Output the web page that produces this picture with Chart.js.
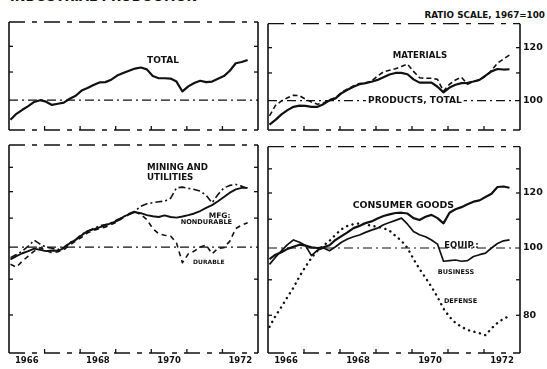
<!DOCTYPE html>
<html>
<head>
<meta charset="utf-8">
<title>Industrial Production</title>
<script src="https://cdn.jsdelivr.net/npm/chart.js@4.4.1/dist/chart.umd.min.js"></script>
<style>
  html, body { margin: 0; padding: 0; background: #fff; }
  body { width: 547px; height: 369px; position: relative; overflow: hidden; font-family: "DejaVu Sans", sans-serif; color: #111; }
  canvas { position: absolute; }
  #title { position: absolute; left: 10px; top: -9px; font-weight: bold; font-size: 12.8px; line-height: 12.8px; white-space: nowrap; }
  #ratio { position: absolute; right: 2px; top: 11px; font-weight: bold; font-size: 8.8px; line-height: 9px; white-space: nowrap; }
</style>
</head>
<body>
<div id="title">INDUSTRIAL PRODUCTION</div>
<div id="ratio">RATIO SCALE, 1967=100</div>
<canvas id="pTotal" width="268" height="125" style="left:0;top:15px"></canvas>
<canvas id="pProducts" width="287" height="125" style="left:260px;top:15px"></canvas>
<canvas id="pIndustry" width="268" height="231" style="left:0;top:138px"></canvas>
<canvas id="pMarket" width="287" height="231" style="left:260px;top:138px"></canvas>
<script>
// Bimonthly observations, seasonally adjusted, 1967 = 100
const periods = [
  "1966-01","1966-03","1966-05","1966-07","1966-09","1966-11",
  "1967-01","1967-03","1967-05","1967-07","1967-09","1967-11",
  "1968-01","1968-03","1968-05","1968-07","1968-09","1968-11",
  "1969-01","1969-03","1969-05","1969-07","1969-09","1969-11",
  "1970-01","1970-03","1970-05","1970-07","1970-09","1970-11",
  "1971-01","1971-03","1971-05","1971-07","1971-09","1971-11",
  "1972-01","1972-03","1972-05","1972-07","1972-09"
];

const totalIndex = [93.6, 95.5, 96.8, 98.0, 99.4, 100.0, 99.5, 98.4, 98.8, 99.2, 100.5, 101.5,
  103.3, 104.2, 105.3, 106.2, 106.3, 107.2, 108.7, 109.6, 110.5, 111.3, 111.7, 111.0,
  108.5, 107.7, 107.7, 107.6, 106.5, 103.0, 104.8, 106.0, 106.8, 106.3, 106.5, 107.5,
  108.5, 110.5, 113.3, 113.8, 114.6];

const productsTotal = [92.1, 93.6, 95.4, 96.8, 97.9, 98.3, 98.2, 97.9, 97.9, 98.8, 100.1, 100.8,
  102.6, 103.8, 104.9, 105.8, 106.2, 106.7, 107.4, 108.4, 109.4, 110.0, 110.0, 109.5,
  107.6, 106.4, 106.4, 106.4, 104.9, 102.9, 104.6, 105.6, 106.2, 106.3, 106.8, 107.4,
  109.0, 110.6, 111.5, 111.3, 111.4];

const materials = [94.9, 98.4, 99.9, 101.0, 101.9, 101.7, 100.5, 99.5, 98.8, 99.2, 100.3, 101.0,
  102.9, 104.1, 105.2, 106.1, 106.3, 107.0, 108.8, 110.4, 111.0, 111.6, 112.5, 113.4,
  110.6, 108.2, 108.0, 108.0, 107.6, 103.3, 105.8, 107.4, 108.4, 105.8, 106.8, 107.3,
  108.8, 110.9, 113.8, 115.4, 117.0];

const miningUtilities = [96.6, 97.6, 98.7, 100.3, 102.3, 101.0, 100.0, 99.6, 99.2, 100.0, 101.4, 102.6,
  104.3, 105.4, 106.3, 107.2, 107.7, 108.3, 109.4, 110.4, 111.6, 112.6, 114.4, 115.3,
  115.7, 116.1, 116.3, 117.4, 121.5, 121.8, 121.3, 120.9, 120.2, 118.6, 115.7, 118.9,
  121.5, 122.5, 122.9, 122.2, 121.3];

const mfgNondurable = [96.0, 97.1, 98.0, 98.7, 99.5, 99.1, 98.7, 98.9, 98.8, 99.7, 101.3, 102.4,
  104.0, 105.4, 106.0, 106.7, 107.4, 108.2, 109.0, 110.4, 111.5, 112.2, 111.8, 111.1,
  110.7, 110.4, 111.0, 110.4, 110.2, 110.6, 111.1, 111.7, 112.6, 113.8, 114.8, 116.3,
  117.9, 119.6, 120.9, 121.5, 121.5];

const mfgDurable = [94.5, 93.6, 95.5, 97.1, 98.7, 99.8, 98.9, 98.1, 98.5, 99.1, 100.7, 102.0,
  103.3, 104.8, 105.6, 106.3, 106.8, 107.7, 108.7, 110.1, 111.3, 112.3, 111.3, 109.5,
  106.3, 104.5, 104.0, 103.7, 101.4, 95.0, 97.8, 98.7, 100.0, 100.7, 97.8, 99.6,
  99.8, 102.0, 106.3, 107.5, 108.3];

const consumerGoods = [96.4, 97.8, 98.6, 99.7, 100.4, 101.1, 100.8, 100.2, 100.0, 100.2, 100.9, 102.7,
  104.0, 105.3, 106.8, 107.6, 108.6, 109.2, 110.3, 111.2, 111.8, 112.3, 112.4, 112.1,
  110.4, 109.7, 110.9, 111.6, 110.4, 108.5, 112.4, 113.7, 114.5, 115.6, 116.6, 117.1,
  118.4, 119.7, 122.4, 122.6, 122.1];

const businessEquip = [94.7, 97.0, 99.1, 101.1, 102.7, 101.9, 100.8, 97.5, 99.3, 100.0, 99.1, 100.4,
  101.9, 103.0, 103.8, 104.4, 105.3, 106.1, 106.8, 108.0, 108.8, 109.6, 110.4, 108.2,
  105.6, 104.5, 103.8, 102.7, 101.3, 95.7, 95.9, 96.1, 95.7, 95.9, 97.2, 97.8,
  98.3, 100.0, 101.5, 102.4, 102.7];

const defenseEquip = [77.0, 79.8, 82.3, 85.0, 87.7, 91.0, 94.0, 96.8, 99.1, 100.8, 102.4, 104.5,
  106.4, 107.6, 108.2, 108.5, 108.2, 107.6, 107.3, 106.8, 105.9, 104.1, 102.4, 100.0,
  96.4, 93.3, 90.6, 87.9, 85.0, 81.8, 79.6, 78.0, 77.0, 76.2, 75.8, 75.4,
  74.9, 76.6, 78.0, 79.1, 79.8];

const yearLabels = ["1966", "1968", "1970", "1972"];
const upperScaleLabels = [100, 120];
const lowerScaleLabels = [80, 100, 120];

// "1966-03" -> decimal year at mid-month
const toYear = p => +p.slice(0, 4) + (+p.slice(5) - 0.5) / 12;

const INK = '#111';
const FONT = '"DejaVu Sans", sans-serif';

// Frame, reference line at 100, inner tick marks and in-panel captions
const panelFrame = {
  id: 'panelFrame',
  beforeDatasetsDraw(chart) {
    const { ctx, chartArea: a, scales: { y } } = chart;
    const y100 = y.getPixelForValue(100);
    ctx.save();
    ctx.strokeStyle = INK;
    ctx.lineWidth = 1.2;
    ctx.setLineDash([9, 4, 2, 4]);
    ctx.beginPath();
    ctx.moveTo(a.left, y100);
    ctx.lineTo(a.right, y100);
    ctx.stroke();
    ctx.restore();
  },
  afterDatasetsDraw(chart, args, opts) {
    const { ctx, chartArea: a, scales: { x, y } } = chart;
    ctx.save();
    ctx.strokeStyle = INK;
    ctx.lineCap = 'butt';
    const seg = (x1, y1, x2, y2) => { ctx.beginPath(); ctx.moveTo(x1, y1); ctx.lineTo(x2, y2); ctx.stroke(); };

    // side edges
    ctx.lineWidth = 1.6;
    ctx.setLineDash([]);
    seg(a.left, a.top, a.left, a.bottom);
    seg(a.right, a.top, a.right, a.bottom);
    // top and bottom edges
    ctx.lineWidth = 1.3;
    ctx.setLineDash([16, 7, 5, 7]);
    seg(a.left, a.top, a.right, a.top);
    seg(a.left, a.bottom, a.right, a.bottom);
    ctx.setLineDash([]);

    // inner ticks on the ratio scale
    ctx.lineWidth = 1.3;
    [80, 90, 110, 120, 130].forEach(v => {
      const py = y.getPixelForValue(v);
      if (py < a.top + 3 || py > a.bottom - 3) return;
      seg(a.left, py, a.left + 4, py);
      seg(a.right - 4, py, a.right, py);
    });
    // year boundaries along the bottom edge
    for (let yr = 1967; yr <= 1972; yr++) {
      const px = x.getPixelForValue(yr);
      seg(px, a.bottom, px, a.bottom - 4);
    }

    // captions placed in data coordinates
    (opts.labels || []).forEach(l => {
      ctx.font = `bold ${l.size}px ${FONT}`;
      ctx.textAlign = l.align || 'center';
      ctx.textBaseline = 'middle';
      const px = x.getPixelForValue(l.at[0]);
      const py = y.getPixelForValue(l.at[1]);
      if (l.clear) {
        const w = ctx.measureText(l.text).width;
        const left = ctx.textAlign === 'center' ? px - w / 2 : (ctx.textAlign === 'right' ? px - w : px);
        ctx.fillStyle = '#fff';
        ctx.fillRect(left - 2, py - l.size * 0.55, w + 4, l.size * 1.1);
      }
      ctx.fillStyle = INK;
      ctx.fillText(l.text, px, py);
    });
    ctx.restore();
  }
};

function makePanel(id, cfg) {
  const showYears = !!cfg.showYears;
  const showScale = !!cfg.scaleLabels;
  return new Chart(document.getElementById(id), {
    type: 'line',
    data: {
      datasets: cfg.series.map(s => ({
        data: periods.map((p, i) => ({ x: toYear(p), y: s.values[i] })),
        borderColor: INK,
        borderWidth: s.width,
        borderDash: s.dash || [],
        borderCapStyle: s.cap || 'butt',
        borderJoinStyle: 'round',
        pointRadius: 0,
        tension: 0,
        fill: false
      }))
    },
    options: {
      responsive: false,
      animation: false,
      events: [],
      layout: { padding: cfg.padding },
      plugins: {
        legend: { display: false },
        tooltip: { enabled: false },
        panelFrame: { labels: cfg.labels }
      },
      scales: {
        x: {
          type: 'linear',
          min: 1966,
          max: 1973,
          display: showYears,
          grid: { display: false, drawTicks: false },
          border: { display: false },
          afterBuildTicks: ax => { ax.ticks = yearLabels.map(l => ({ value: +l + 0.5 })); },
          afterFit: ax => { ax.height = showYears ? 16 : 0; },
          ticks: {
            autoSkip: false,
            maxRotation: 0,
            padding: 3,
            color: INK,
            font: { family: FONT, weight: 'bold', size: 8.5 },
            callback: v => yearLabels.find(l => +l === Math.floor(v))
          }
        },
        y: {
          type: 'logarithmic',
          position: 'right',
          min: cfg.yMin,
          max: cfg.yMax,
          display: showScale,
          grid: { display: false, drawTicks: false },
          border: { display: false },
          afterBuildTicks: ax => { ax.ticks = (cfg.scaleLabels || []).map(v => ({ value: v })); },
          afterFit: ax => { ax.width = showScale ? 27 : 0; },
          ticks: {
            padding: 3,
            color: INK,
            font: { family: FONT, weight: 'bold', size: 9.5 },
            callback: v => String(v)
          }
        }
      }
    },
    plugins: [panelFrame]
  });
}

// Total index
makePanel('pTotal', {
  padding: { left: 9, top: 7, right: 10, bottom: 10 },
  yMin: 90.4, yMax: 130.3,
  series: [{ values: totalIndex, width: 2.2 }],
  labels: [{ text: 'TOTAL', at: [1970.33, 114.2], size: 9 }]
});

// Products and materials
makePanel('pProducts', {
  padding: { left: 8, top: 7, right: 0, bottom: 10 },
  yMin: 90.4, yMax: 130.3,
  scaleLabels: upperScaleLabels,
  series: [
    { values: materials, width: 1.6, dash: [5, 3] },
    { values: productsTotal, width: 2.2 }
  ],
  labels: [
    { text: 'MATERIALS', at: [1970.22, 116.6], size: 8.6 },
    { text: 'PRODUCTS, TOTAL', at: [1970.08, 100], size: 9, clear: true }
  ]
});

// Manufacturing and mining
makePanel('pIndustry', {
  padding: { left: 9, top: 7, right: 10, bottom: 0 },
  yMin: 70.6, yMax: 139.9,
  showYears: true,
  series: [
    { values: miningUtilities, width: 1.6, dash: [7, 3, 2, 3] },
    { values: mfgDurable, width: 1.6, dash: [5, 4] },
    { values: mfgNondurable, width: 1.9 }
  ],
  labels: [
    { text: 'MINING AND', at: [1969.88, 129.7], size: 8.7, align: 'left' },
    { text: 'UTILITIES', at: [1969.88, 125.5], size: 8.7, align: 'left' },
    { text: 'MFG:', at: [1971.92, 110.7], size: 7.5 },
    { text: 'NONDURABLE', at: [1971.55, 108.6], size: 6.6 },
    { text: 'DURABLE', at: [1971.62, 95.2], size: 6 }
  ]
});

// Market groupings
makePanel('pMarket', {
  padding: { left: 8, top: 7, right: 0, bottom: 0 },
  yMin: 70.6, yMax: 139.9,
  showYears: true,
  scaleLabels: lowerScaleLabels,
  series: [
    { values: defenseEquip, width: 2.4, dash: [0.1, 5.5], cap: 'round' },
    { values: businessEquip, width: 1.7 },
    { values: consumerGoods, width: 2.2 }
  ],
  labels: [
    { text: 'CONSUMER GOODS', at: [1969.76, 115.2], size: 9.4 },
    { text: 'EQUIP.:', at: [1971.375, 100.7], size: 8.5 },
    { text: 'BUSINESS', at: [1971.22, 92.1], size: 6.5 },
    { text: 'DEFENSE', at: [1971.35, 83.7], size: 6.5 }
  ]
});
</script>
</body>
</html>
